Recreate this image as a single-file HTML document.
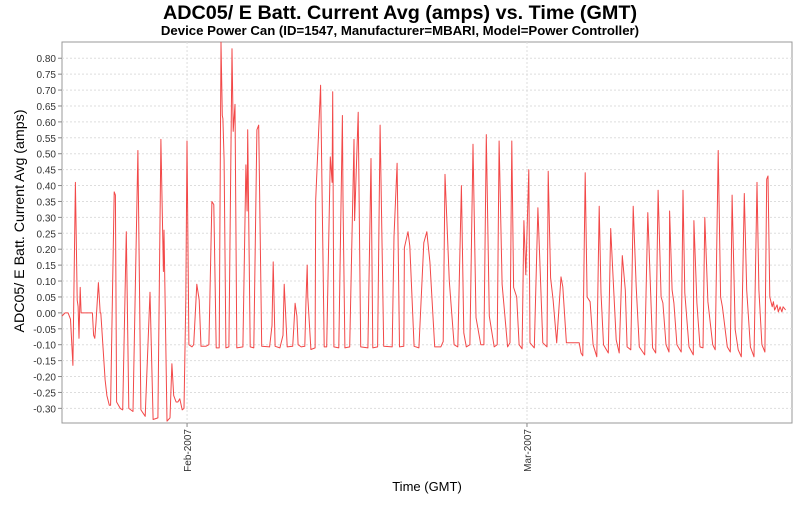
<!DOCTYPE html>
<html><head><meta charset="utf-8"><style>
body{margin:0;background:#fff;width:800px;height:500px;overflow:hidden;font-family:"Liberation Sans",sans-serif}
svg text{font-family:"Liberation Sans","DejaVu Sans",sans-serif}
</style></head><body>
<svg id="chart" width="800" height="500" xmlns="http://www.w3.org/2000/svg">
<text x="400" y="19" text-anchor="middle" font-size="19.8" font-weight="bold">ADC05/ E Batt. Current Avg (amps) vs. Time (GMT)</text>
<text x="400" y="35" text-anchor="middle" font-size="13.2" font-weight="bold">Device Power Can (ID=1547, Manufacturer=MBARI, Model=Power Controller)</text>
<rect x="62" y="42" width="730" height="381" fill="#fff" stroke="#999" stroke-width="1"/>
<g id="grid"></g>
<g id="yaxis"></g>
<g id="xaxis"></g>
<g id="series"></g>
<text transform="translate(24,221) rotate(-90)" text-anchor="middle" font-size="14.2">ADC05/ E Batt. Current Avg (amps)</text>
<text x="427" y="491" text-anchor="middle" font-size="13">Time (GMT)</text>
</svg>
<script>
const yTicks=[0.80,0.75,0.70,0.65,0.60,0.55,0.50,0.45,0.40,0.35,0.30,0.25,0.20,0.15,0.10,0.05,0.00,-0.05,-0.10,-0.15,-0.20,-0.25,-0.30];
const xTickDays=[0,28];
const xTickLabels=["Feb-2007","Mar-2007"];
const days=[-10.3,-10.05,-9.8,-9.6,-9.4,-9.2,-9.05,-8.97,-8.9,-8.8,-8.73,-8.3,-7.8,-7.7,-7.6,-7.5,-7.3,-7.15,-7.1,-6.75,-6.6,-6.4,-6.3,-6.0,-5.9,-5.8,-5.5,-5.3,-5.0,-4.8,-4.45,-4.05,-3.8,-3.45,-3.05,-2.8,-2.4,-2.15,-1.95,-1.9,-1.65,-1.4,-1.25,-1.1,-0.9,-0.75,-0.6,-0.4,-0.25,-0.1,0,0.15,0.4,0.55,0.8,1.0,1.15,1.55,1.8,2.05,2.2,2.4,2.65,2.8,2.9,2.95,3.05,3.2,3.45,3.7,3.8,3.95,4.1,4.6,4.85,4.95,5.0,5.2,5.5,5.75,5.9,6.15,6.8,7.0,7.1,7.25,7.65,7.9,8.0,8.25,8.7,8.8,8.9,9.05,9.15,9.4,9.7,9.8,9.9,9.95,10.2,10.55,10.6,11.0,11.3,11.5,11.8,11.95,12.0,12.1,12.5,12.8,12.85,13.0,13.4,13.75,13.8,14.1,14.3,14.9,15.15,15.3,15.7,15.9,16.2,16.9,17.05,17.3,17.5,17.85,17.9,18.2,18.35,18.7,19.1,19.5,19.75,20.0,20.4,20.9,21.1,21.25,21.6,22.0,22.3,22.6,22.8,23.0,23.3,23.55,23.8,24.2,24.45,24.65,24.9,25.3,25.55,25.7,25.95,26.4,26.6,26.75,26.9,27.15,27.35,27.6,27.75,27.9,28.15,28.25,28.6,28.9,29.3,29.65,29.75,29.95,30.15,30.45,30.8,30.95,31.25,32.3,32.45,32.6,32.8,32.95,33.2,33.45,33.75,33.95,34.1,34.3,34.7,34.9,35.1,35.35,35.6,35.85,36.1,36.25,36.55,36.75,37.0,37.25,37.7,37.95,38.2,38.35,38.6,38.8,39.05,39.2,39.45,39.7,39.75,39.95,40.1,40.35,40.7,40.85,41.0,41.35,41.7,41.75,42.0,42.25,42.5,42.65,42.9,43.3,43.5,43.75,43.95,44.1,44.5,44.75,44.9,45.15,45.4,45.65,45.9,46.1,46.4,46.7,46.95,47.1,47.35,47.6,47.75,47.85,48.0,48.2,48.3,48.4,48.6,48.7,48.85,49.0,49.1,49.3];
const amps=[-0.01,0.00,0.00,-0.02,-0.165,0.41,0.04,0.02,-0.08,0.08,0.00,0.00,0.00,-0.07,-0.08,-0.03,0.095,0.00,0.00,-0.21,-0.26,-0.29,-0.29,0.38,0.37,-0.28,-0.30,-0.305,0.255,-0.30,-0.31,0.51,-0.305,-0.325,0.065,-0.335,-0.33,0.545,0.13,0.26,-0.34,-0.33,-0.16,-0.26,-0.28,-0.28,-0.27,-0.305,-0.30,0.04,0.54,-0.10,-0.107,-0.10,0.09,0.04,-0.105,-0.105,-0.10,0.35,0.34,-0.11,-0.11,0.85,0.62,0.61,0.48,-0.11,-0.107,0.83,0.57,0.655,-0.11,-0.107,0.465,0.32,0.575,-0.107,-0.11,0.575,0.59,-0.105,-0.107,-0.04,0.16,-0.105,-0.11,-0.07,0.09,-0.107,-0.105,-0.04,0.03,-0.01,-0.10,-0.107,-0.105,0.04,0.15,0.05,-0.115,-0.11,0.355,0.715,-0.107,-0.107,0.49,0.41,0.695,-0.107,-0.11,0.62,0.355,-0.11,-0.107,0.545,0.29,0.63,-0.107,-0.11,0.485,-0.11,-0.107,0.59,-0.105,-0.107,0.24,0.47,-0.107,-0.105,0.205,0.255,0.21,-0.105,-0.11,0.22,0.255,0.16,-0.107,-0.107,-0.09,0.435,0.10,-0.10,-0.107,0.40,-0.063,-0.107,-0.10,0.53,-0.015,-0.10,-0.10,0.56,-0.01,-0.107,-0.10,0.54,0.09,-0.107,-0.094,0.54,0.08,0.05,-0.10,-0.113,0.29,0.12,0.45,-0.094,-0.11,0.33,-0.094,-0.107,0.445,0.11,0.041,-0.094,0.113,0.082,-0.094,-0.094,-0.126,-0.135,0.44,0.05,0.035,-0.10,-0.138,0.335,0.063,-0.10,-0.126,0.265,0.104,-0.085,-0.126,0.18,0.072,-0.107,-0.116,0.335,0.082,-0.107,-0.132,0.315,0.05,-0.11,-0.126,0.385,0.05,0.031,-0.10,-0.123,0.32,0.072,0.031,-0.10,-0.123,0.385,0.063,-0.107,-0.132,0.29,0.031,-0.107,-0.11,0.30,0.035,-0.10,-0.116,0.51,0.05,0.019,-0.107,-0.123,0.37,-0.053,-0.116,-0.138,0.375,0.072,-0.107,-0.138,0.41,0.072,-0.10,-0.123,0.42,0.43,0.05,0.019,0.035,0.009,0.025,0.003,0.019,0.003,0.019,0.009];
const L=62,R=792,T=42,B=423,D0=-10.3,D1=49.83,V0=-0.346,V1=0.851;
const xs=d=>L+(d-D0)/(D1-D0)*(R-L);
const ys=v=>B-(v-V0)/(V1-V0)*(B-T);
const NS="http://www.w3.org/2000/svg";
function mk(tag,parent,attrs){const e=document.createElementNS(NS,tag);for(const k in attrs)e.setAttribute(k,attrs[k]);parent.appendChild(e);return e;}
const grid=document.getElementById('grid'),ya=document.getElementById('yaxis'),xa=document.getElementById('xaxis'),ser=document.getElementById('series');
yTicks.forEach(v=>{const y=ys(v);
 const g=mk('line',grid,{x1:L,x2:R,y1:y,y2:y,stroke:'#ddd','stroke-dasharray':'2,2','stroke-width':1});
 
 
 const tk=mk('line',ya,{x1:L-4,x2:L,y1:y,y2:y,stroke:'#888'});
 
 
 const t=mk('text',ya,{x:L-6,y:y+4,'text-anchor':'end','font-size':10,fill:'#333'});
 t.textContent=v.toFixed(2);
 
 
});
xTickDays.forEach((d,i)=>{const x=xs(d);
 const g=mk('line',grid,{x1:x,x2:x,y1:T,y2:B,stroke:'#ddd','stroke-dasharray':'2,2','stroke-width':1});
 
 
 const tk=mk('line',xa,{x1:x,x2:x,y1:B,y2:B+4,stroke:'#888'});
 
 
 const t=mk('text',xa,{transform:`translate(${x+4},${B+6}) rotate(-90)`,'text-anchor':'end','font-size':10,fill:'#333'});
 t.textContent=xTickLabels[i];
 
 
});
const pts=days.map((d,i)=>xs(d).toFixed(1)+','+ys(amps[i]).toFixed(1)).join(' ');
const pl=mk('polyline',ser,{points:pts,fill:'none',stroke:'#f24848','stroke-width':1,'stroke-linejoin':'round'});


</script>
</body></html>
